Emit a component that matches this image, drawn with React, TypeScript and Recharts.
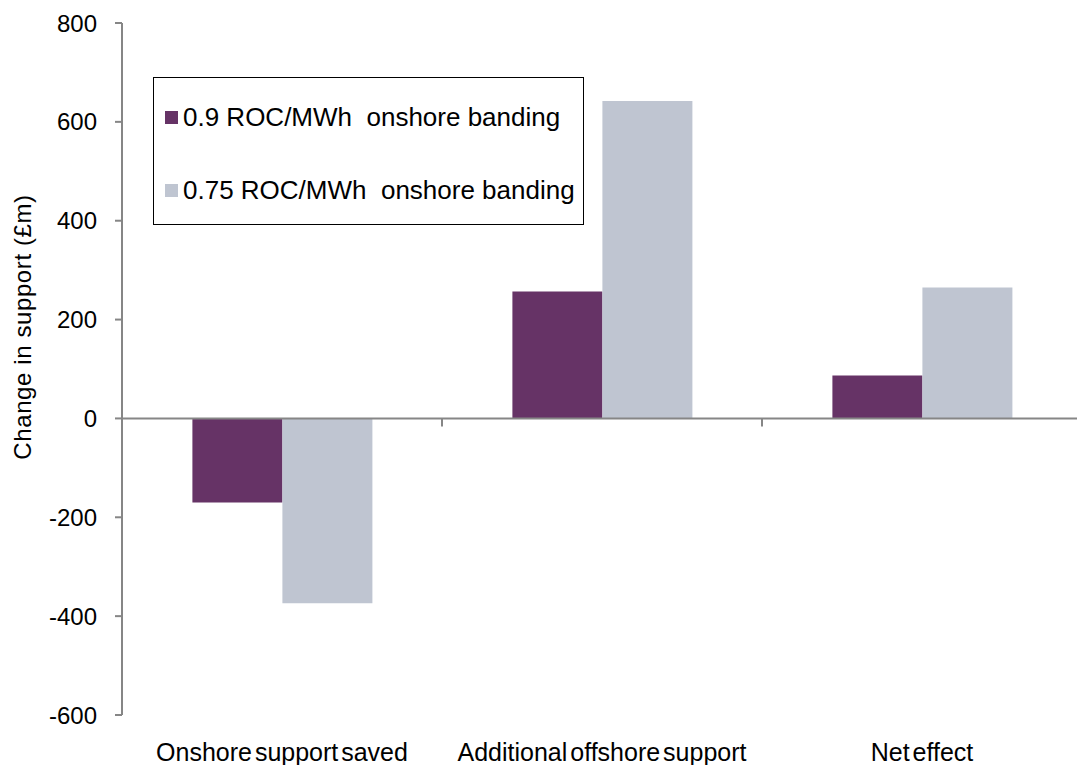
import React from 'react'
import {
  BarChart,
  Bar,
  XAxis,
  YAxis,
  Legend,
  ReferenceLine,
} from 'recharts'

const categories = ['Onshore support saved', 'Additional offshore support', 'Net effect']
const band09 = [-170, 257, 87]
const band075 = [-374, 642, 265]
const yTicks = [-600, -400, -200, 0, 200, 400, 600, 800]

const seriesNames = ['0.9 ROC/MWh  onshore banding', '0.75 ROC/MWh  onshore banding']
const colors = ['#663366', '#BFC5D1']

const data = categories.map((name, i) => ({
  name,
  band09: band09[i],
  band075: band075[i],
}))

const font = '"Liberation Sans", Arial, sans-serif'
const axisGrey = '#868686'

// zero line with small tick marks between categories
const ZeroLine = (props: any) => {
  const { x1, x2, y1 } = props
  const step = (x2 - x1) / categories.length
  const marks = []
  for (let i = 0; i <= categories.length; i++) {
    const x = x1 + step * i
    marks.push(<line key={i} x1={x} x2={x} y1={y1} y2={y1 + 8} stroke={axisGrey} strokeWidth={2} />)
  }
  return (
    <g>
      <line x1={x1} x2={x2} y1={y1} y2={y1} stroke={axisGrey} strokeWidth={2} />
      {marks}
    </g>
  )
}

const LegendBox = (props: any) => {
  const { payload = [] } = props
  // keep series order rather than the legend's sorted order
  const items = [...payload].sort(
    (a: any, b: any) => seriesNames.indexOf(a.value) - seriesNames.indexOf(b.value)
  )
  return (
    <div
      style={{
        position: 'relative',
        width: 431,
        height: 148,
        border: '1.5px solid #000',
        boxSizing: 'border-box',
        background: '#fff',
        fontFamily: font,
        fontSize: 26,
        color: '#000',
      }}
    >
      {items.map((p: any, i: number) => (
        <div
          key={i}
          style={{
            position: 'absolute',
            left: 11,
            top: 24 + i * 73,
            display: 'flex',
            alignItems: 'center',
            whiteSpace: 'pre',
            lineHeight: '30px',
          }}
        >
          <span style={{ width: 13, height: 13, background: p.color, marginRight: 5 }} />
          <span>{p.value}</span>
        </div>
      ))}
    </div>
  )
}

const App: React.FC = () => {
  return (
    <div
      style={{
        position: 'absolute',
        top: 0,
        left: 0,
        width: 1077,
        height: 765,
        overflow: 'hidden',
        background: '#fff',
      }}
    >
      <BarChart
        width={1085}
        height={765}
        data={data}
        margin={{ top: 23, right: 3, left: 0, bottom: 0 }}
        barCategoryGap="22%"
        barGap={0}
      >
        <XAxis
          dataKey="name"
          axisLine={false}
          tickLine={false}
          tickSize={0}
          tickMargin={28}
          height={50}
          interval={0}
          tick={{ fill: '#000', fontSize: 25, fontFamily: font, wordSpacing: -4 }}
        />
        <YAxis
          width={122}
          domain={[-600, 800]}
          ticks={yTicks}
          axisLine={{ stroke: axisGrey, strokeWidth: 2 }}
          tickLine={{ stroke: axisGrey, strokeWidth: 2 }}
          tickSize={7}
          tickMargin={18}
          tick={{ fill: '#000', fontSize: 24, fontFamily: font }}
          label={{
            value: 'Change in support (£m)',
            angle: -90,
            position: 'center',
            dx: -39,
            dy: -42,
            fill: '#000',
            fontSize: 24,
            letterSpacing: 0.6,
            fontFamily: font,
          }}
        />
        <ReferenceLine y={0} shape={<ZeroLine />} />
        <Legend
          layout="vertical"
          align="center"
          verticalAlign="middle"
          wrapperStyle={{ left: 153, top: 77 }}
          content={<LegendBox />}
        />
        <Bar dataKey="band09" name={seriesNames[0]} fill={colors[0]} isAnimationActive={false} />
        <Bar dataKey="band075" name={seriesNames[1]} fill={colors[1]} isAnimationActive={false} />
      </BarChart>
    </div>
  )
}

export default App
